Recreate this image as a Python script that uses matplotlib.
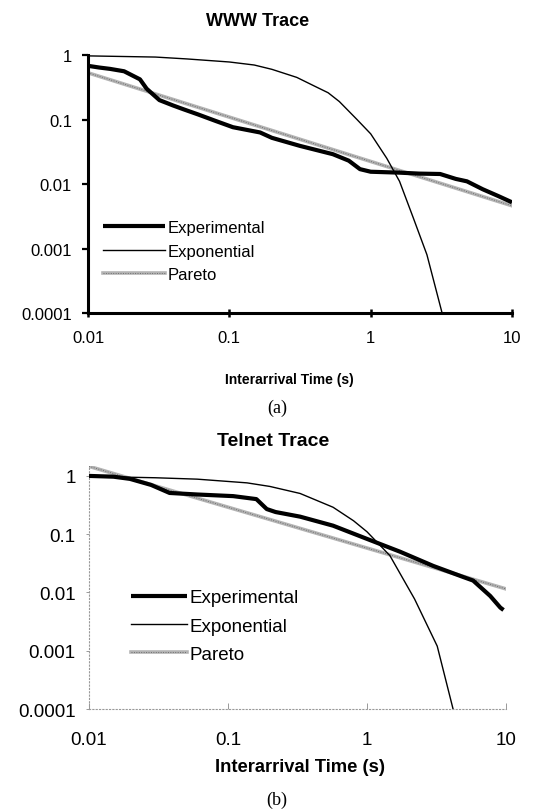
import matplotlib
matplotlib.use("Agg")
import matplotlib.pyplot as plt

plt.rcParams['font.family'] = ['Liberation Sans', 'DejaVu Sans']

# ---- WWW trace (a) ----
www_exp_x = [0.01, 0.012, 0.0143, 0.018, 0.0233, 0.026, 0.032, 0.04, 0.047, 0.06,
             0.08, 0.106, 0.165, 0.2, 0.316, 0.54, 0.7, 0.84, 1.0, 1.6, 2.2, 3.1,
             4.0, 4.8, 6.2, 8.0, 10.0]
www_exp_y = [0.68, 0.64, 0.61, 0.56, 0.42, 0.30, 0.20, 0.165, 0.145, 0.12,
             0.095, 0.076, 0.063, 0.052, 0.039, 0.029, 0.023, 0.017, 0.0155, 0.015,
             0.0145, 0.0143, 0.012, 0.011, 0.0083, 0.0065, 0.0052]
www_expo_x = [0.01, 0.03, 0.05, 0.1, 0.15, 0.2, 0.3, 0.4, 0.5, 0.6, 0.8, 1.0,
              1.3, 1.6, 2.0, 2.5, 3.2]
www_expo_y = [0.97, 0.93, 0.87, 0.78, 0.70, 0.60, 0.45, 0.33, 0.26, 0.19, 0.10,
              0.06, 0.025, 0.011, 0.003, 0.0008, 0.0001]
www_par_x = [0.01, 10.0]
www_par_y = [0.53, 0.0046]

# ---- Telnet trace (b) ----
tel_exp_x = [0.01, 0.015, 0.0197, 0.028, 0.038, 0.06, 0.109, 0.16, 0.19, 0.22,
             0.33, 0.57, 1.0, 1.73, 3.0, 4.9, 5.8, 7.7, 9.1, 9.6]
tel_exp_y = [1.0, 0.97, 0.89, 0.70, 0.51, 0.48, 0.45, 0.40, 0.27, 0.24,
             0.20, 0.14, 0.083, 0.05, 0.0285, 0.0185, 0.016, 0.0087, 0.0055, 0.005]
tel_expo_x = [0.01, 0.03, 0.06, 0.137, 0.2, 0.33, 0.57, 0.8, 1.0, 1.46, 2.2,
              3.2, 4.16]
tel_expo_y = [0.98, 0.93, 0.88, 0.76, 0.66, 0.50, 0.29, 0.17, 0.11, 0.043,
              0.0077, 0.0012, 0.0001]
tel_par_x = [0.01, 10.0]
tel_par_y = [1.46, 0.0115]

labels = ['Experimental', 'Exponential', 'Pareto']
xticks = [0.01, 0.1, 1, 10]
xticklabels = ['0.01', '0.1', '1', '10']
yticks = [0.0001, 0.001, 0.01, 0.1, 1]
yticklabels = ['0.0001', '0.001', '0.01', '0.1', '1']

fig = plt.figure(figsize=(5.42, 8.12), dpi=100)


def draw(ax, ex, ey, ox, oy, px, py, lw_exp):
    l1, = ax.plot(ex, ey, color='black', lw=lw_exp, solid_capstyle='butt', zorder=3)
    l2, = ax.plot(ox, oy, color='black', lw=1.0, zorder=4)
    p1, = ax.plot(px, py, color='#b4b4b4', lw=2.6, zorder=2)
    p2, = ax.plot(px, py, color='#6e6e6e', lw=0.7, ls=(0, (1, 1.5)), zorder=2)
    ax.set_xscale('log')
    ax.set_yscale('log')
    ax.set_xticks(xticks)
    ax.set_xticklabels(xticklabels)
    ax.set_yticks(yticks)
    ax.set_yticklabels(yticklabels)
    ax.minorticks_off()
    ax.spines['top'].set_visible(False)
    ax.spines['right'].set_visible(False)
    return [l1, l2, (p1, p2)]


# top panel
ax1 = fig.add_axes([0.1624, 0.6133, 0.7823, 0.3177])
h = draw(ax1, www_exp_x, www_exp_y, www_expo_x, www_expo_y, www_par_x, www_par_y, 3.0)
ax1.set_xlim(0.01, 10)
ax1.set_ylim(0.0001, 1)
for s in ['left', 'bottom']:
    ax1.spines[s].set_linewidth(2.2)
ax1.tick_params(axis='y', direction='out', length=4.5, width=1.6, pad=7, labelsize=12)
ax1.tick_params(axis='x', direction='inout', length=6, width=1.8, pad=9, labelsize=12)
ax1.legend(h, labels, loc='center left', bbox_to_anchor=(0.035, 0.24),
           frameon=False, borderpad=0, borderaxespad=0, fontsize=12,
           handlelength=3.7, handletextpad=0.2, labelspacing=0.5)

# bottom panel
ax2 = fig.add_axes([0.1642, 0.1256, 0.7694, 0.2997])
h = draw(ax2, tel_exp_x, tel_exp_y, tel_expo_x, tel_expo_y, tel_par_x, tel_par_y, 3.0)
ax2.set_xlim(0.01, 10)
ax2.set_ylim(0.0001, 1.5)
for s in ['left', 'bottom']:
    ax2.spines[s].set_linewidth(0.8)
    ax2.spines[s].set_color('#999999')
    ax2.spines[s].set_linestyle((0, (1, 2)))
ax2.tick_params(axis='y', direction='out', length=2.5, width=0.7, color='#999999',
                pad=7, labelsize=13.5)
ax2.tick_params(axis='x', direction='in', length=4, width=0.7, color='#999999',
                pad=16, labelsize=13.5)
ax2.legend(h, labels, loc='center left', bbox_to_anchor=(0.1007, 0.341),
           frameon=False, borderpad=0, borderaxespad=0, fontsize=13.5,
           handlelength=3.0, handletextpad=0.1, labelspacing=0.6)

# titles and labels
fig.text(258 / 542, 1 - 22 / 812, 'WWW Trace', ha='center', va='center',
         fontsize=13, fontweight='bold')
fig.text(289 / 542, 1 - 380 / 812, 'Interarrival Time (s)', ha='center', va='center',
         fontsize=10, fontweight='bold')
fig.text(277 / 542, 1 - 408 / 812, '(a)', ha='center', va='center',
         fontsize=13, family=['Liberation Serif', 'DejaVu Serif'])
fig.text(273 / 542, 1 - 442 / 812, 'Telnet Trace', ha='center', va='center',
         fontsize=14, fontweight='bold')
fig.text(300 / 542, 1 - 768 / 812, 'Interarrival Time (s)', ha='center', va='center',
         fontsize=13.2, fontweight='bold')
fig.text(277 / 542, 1 - 800 / 812, '(b)', ha='center', va='center',
         fontsize=13, family=['Liberation Serif', 'DejaVu Serif'])

fig.savefig('out.png', dpi=100)
